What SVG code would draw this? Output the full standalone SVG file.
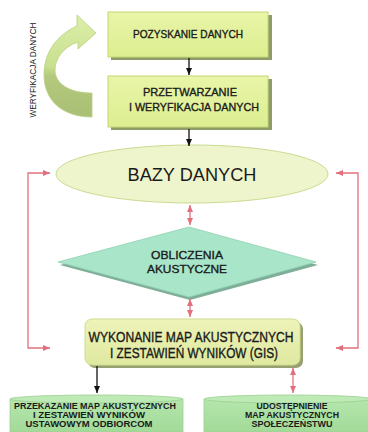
<svg xmlns="http://www.w3.org/2000/svg" width="368" height="432" viewBox="0 0 368 432">
<defs>
<style>
.t{font-family:"Liberation Sans",Arial,sans-serif;fill:#1a1a1a;text-anchor:middle}
.h{stroke:#1a1a1a;stroke-width:0.35}
.b{font-weight:bold}
.blk{stroke:#111;stroke-width:1.3;fill:none}
.red{stroke:#e2707c;stroke-width:1.3;fill:none}
</style>
<linearGradient id="boxg" x1="0" y1="0" x2="0" y2="1">
<stop offset="0" stop-color="#e9f5a8"/><stop offset="1" stop-color="#dcee90"/>
</linearGradient>
<linearGradient id="wykg" x1="0" y1="0" x2="0" y2="1">
<stop offset="0" stop-color="#eef3b8"/><stop offset="1" stop-color="#dfe9a0"/>
</linearGradient>
<linearGradient id="curv" x1="0" y1="0" x2="0" y2="1">
<stop offset="0" stop-color="#dcefa8"/><stop offset="0.5" stop-color="#c9e08e"/><stop offset="0.6" stop-color="#b4c97e"/><stop offset="1" stop-color="#a9bf74"/>
</linearGradient>
<linearGradient id="cyl" x1="0" y1="0" x2="0" y2="1">
<stop offset="0" stop-color="#b4e6ac"/><stop offset="1" stop-color="#a2da98"/>
</linearGradient>
<marker id="ab" markerWidth="8" markerHeight="8" refX="7" refY="4" orient="auto" markerUnits="userSpaceOnUse">
<path d="M0,1 L7,4 L0,7 Z" fill="#111"/>
</marker>
<marker id="ar" markerWidth="8" markerHeight="8" refX="7" refY="4" orient="auto-start-reverse" markerUnits="userSpaceOnUse">
<path d="M0,1 L7,4 L0,7 Z" fill="#e2707c"/>
</marker>
</defs>
<rect width="368" height="432" fill="#ffffff"/>

<g id="verify">
<path d="M92,117 C62,117 44,100 44,75 C44,52 57,35 77,26 L77,15 L96,33 L78,49 L78,42 C63,47 55,59 55,70 C55,84 70,93 92,93 Z" fill="url(#curv)" stroke="#b9cf86" stroke-width="0.8"/>
<text class="t" transform="translate(36,70) rotate(-90)" font-size="9" textLength="95" lengthAdjust="spacingAndGlyphs">WERYFIKACJA DANYCH</text>
</g>

<g id="n1">
<rect x="111" y="15" width="161" height="45" fill="#8f9c6a"/>
<rect x="108" y="12" width="160" height="45" fill="url(#boxg)" stroke="#c3d874" stroke-width="1"/>
<text class="t h" x="188" y="38" font-size="11" textLength="110" lengthAdjust="spacingAndGlyphs">POZYSKANIE DANYCH</text>
</g>

<g id="n2">
<rect x="111" y="79" width="161" height="51" fill="#8f9c6a"/>
<rect x="108" y="76" width="160" height="51" fill="url(#boxg)" stroke="#c3d874" stroke-width="1"/>
<text class="t h" x="190" y="96" font-size="11" textLength="94" lengthAdjust="spacingAndGlyphs">PRZETWARZANIE</text>
<text class="t h" x="194" y="111" font-size="11" textLength="130" lengthAdjust="spacingAndGlyphs">I WERYFIKACJA DANYCH</text>
</g>

<g id="n3">
<ellipse cx="192" cy="174" rx="136" ry="29" fill="#eef5cc" stroke="#c8dc90" stroke-width="1"/>
<text class="t" x="192" y="181" font-size="19" textLength="129" lengthAdjust="spacingAndGlyphs">BAZY DANYCH</text>
</g>

<g id="n4">
<path d="M190,230 L318,265 L190,300 L60,265 Z" fill="#7fae98"/>
<path d="M189,227 L316,262 L189,297 L58,262 Z" fill="#a9e6c9" stroke="#90d0b2" stroke-width="0.8"/>
<text class="t h" x="187" y="259" font-size="11.5" textLength="72" lengthAdjust="spacingAndGlyphs">OBLICZENIA</text>
<text class="t h" x="187" y="273" font-size="11.5" textLength="80" lengthAdjust="spacingAndGlyphs">AKUSTYCZNE</text>
</g>

<g id="n5">
<rect x="88" y="322" width="215" height="46" rx="7" fill="#97a070"/>
<rect x="85" y="319" width="215" height="46" rx="7" fill="url(#wykg)" stroke="#cfdc8e" stroke-width="1"/>
<text class="t h" x="191" y="342" font-size="14" textLength="205" lengthAdjust="spacingAndGlyphs">WYKONANIE MAP AKUSTYCZNYCH</text>
<text class="t h" x="194" y="358" font-size="14" textLength="168" lengthAdjust="spacingAndGlyphs">I ZESTAWIEŃ WYNIKÓW (GIS)</text>
</g>

<g id="n6">
<path d="M10,399 L10,432 L183,432 L183,399" fill="url(#cyl)" stroke="#9ccf92" stroke-width="0.8"/>
<ellipse cx="96.5" cy="399" rx="86.5" ry="4" fill="#bdeab5" stroke="#9ccf92" stroke-width="0.8"/>
<text class="t b" x="95" y="409" font-size="9" textLength="162" lengthAdjust="spacingAndGlyphs">PRZEKAZANIE MAP AKUSTYCZNYCH</text>
<text class="t b" x="89" y="418" font-size="9" textLength="112" lengthAdjust="spacingAndGlyphs">I ZESTAWIEŃ WYNIKÓW</text>
<text class="t b" x="89" y="427" font-size="9" textLength="127" lengthAdjust="spacingAndGlyphs">USTAWOWYM ODBIORCOM</text>
</g>

<g id="n7">
<path d="M204,399 L204,432 L372,432 L372,399" fill="url(#cyl)" stroke="#9ccf92" stroke-width="0.8"/>
<ellipse cx="288" cy="399" rx="84" ry="4" fill="#bdeab5" stroke="#9ccf92" stroke-width="0.8"/>
<text class="t b" x="292" y="409" font-size="9" textLength="71" lengthAdjust="spacingAndGlyphs">UDOSTĘPNIENIE</text>
<text class="t b" x="292" y="418" font-size="9" textLength="94" lengthAdjust="spacingAndGlyphs">MAP AKUSTYCZNYCH</text>
<text class="t b" x="292" y="427" font-size="9" textLength="81" lengthAdjust="spacingAndGlyphs">SPOŁECZEŃSTWU</text>
</g>

<g id="connectors">
<line class="blk" x1="189" y1="58" x2="189" y2="75" marker-end="url(#ab)"/>
<line class="blk" x1="189" y1="129" x2="189" y2="146" marker-end="url(#ab)"/>
<line class="red" x1="190" y1="205" x2="190" y2="225" marker-start="url(#ar)" marker-end="url(#ar)"/>
<line class="red" x1="190" y1="299" x2="190" y2="317" marker-start="url(#ar)" marker-end="url(#ar)"/>
<line class="blk" x1="97" y1="366" x2="97" y2="393" marker-end="url(#ab)"/>
<line class="red" x1="293" y1="368" x2="293" y2="393" marker-start="url(#ar)" marker-end="url(#ar)"/>
<polyline class="red" points="50,173 28,173 28,348 50,348" marker-start="url(#ar)" marker-end="url(#ar)"/>
<polyline class="red" points="336,173 358,173 358,348 336,348" marker-start="url(#ar)" marker-end="url(#ar)"/>
</g>
</svg>
